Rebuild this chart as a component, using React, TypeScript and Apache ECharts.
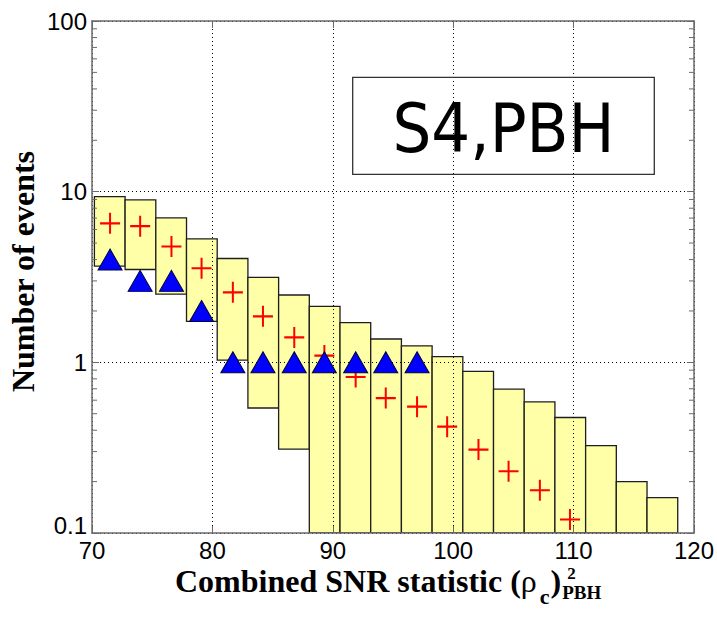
import React, { useEffect, useRef } from "react";
import * as echarts from "echarts";

// ---- data ----
const binEdges = [70.2, 72.75, 75.3, 77.85, 80.4, 82.95, 85.5, 88.05, 90.6, 93.15, 95.7, 98.25, 100.8, 103.35, 105.9, 108.45, 111.0, 113.55, 116.1, 118.65];
const binCenters = [71.5, 74.0, 76.6, 79.1, 81.7, 84.2, 86.8, 89.3, 91.9, 94.4, 97.0, 99.5, 102.1, 104.6, 107.2, 109.7, 112.3, 114.8, 117.4];
const bandUpper = [9.35, 8.94, 7.03, 5.29, 4.06, 3.15, 2.48, 2.13, 1.71, 1.37, 1.25, 1.08, 0.885, 0.697, 0.587, 0.475, 0.325, 0.2, 0.161];
const bandLower = [3.66, 3.5, 2.51, 1.74, 1.03, 0.54, 0.31, 0, 0, 0, 0, 0, 0, 0, 0, 0, 0, 0, 0];
const expectedCounts = [6.52, 6.28, 4.77, 3.56, 2.57, 1.86, 1.4, 1.095, 0.82, 0.617, 0.55, 0.42, 0.308, 0.23, 0.178, 0.12];
const observedCounts = [4, 3, 3, 2, 1, 1, 1, 1, 1, 1, 1];

const xTickValues = [70, 80, 90, 100, 110, 120];
const xTickLabels = ["70", "80", "90", "100", "110", "120"];
const yTickValues = [0.1, 1, 10, 100];
const yTickLabels = ["0.1", "1", "10", "100"];
const yMinorTicks = [0.2, 0.3, 0.4, 0.5, 0.6, 0.7, 0.8, 0.9, 2, 3, 4, 5, 6, 7, 8, 9, 20, 30, 40, 50, 60, 70, 80, 90];

const X_MIN = 70, X_MAX = 120, Y_MIN = 0.1, Y_MAX = 100;

const AXIS_COLOR = "#6a6a6a";
const TICK_FONT = '"Liberation Sans Narrow", "Liberation Sans", Arial, sans-serif';
const SERIF = '"Liberation Serif", "Times New Roman", serif';

function measure(text: string, font: string): number {
  const c = document.createElement("canvas");
  const ctx = c.getContext("2d");
  if (!ctx) return text.length * 10;
  ctx.font = font;
  return ctx.measureText(text).width;
}

function txt(text: string, x: number, y: number, font: string, lineHeight: number, extra: any = {}) {
  return {
    type: "text", z: 11, ...extra,
    style: {
      text, x, y, fill: "#000", font, lineHeight,
      align: extra.alignC ? "center" : "left", verticalAlign: "middle",
      textAlign: extra.alignC ? "center" : "left", textVerticalAlign: "middle",
    },
  };
}

export default function App() {
  const ref = useRef<HTMLDivElement>(null);

  useEffect(() => {
    if (!ref.current) return;
    const chart = echarts.init(ref.current, undefined, { renderer: "svg" });

    const boxData = binCenters.map((c, i) => [binEdges[i], binEdges[i + 1], bandLower[i], bandUpper[i]]);
    const expData = expectedCounts.map((v, i) => [binCenters[i], v]);
    const obsData = observedCounts.map((v, i) => [binCenters[i], v]);
    const minorData = yMinorTicks.map((v) => [X_MIN, v]);

    const mainFont = `bold 32px ${SERIF}`;
    const rhoFont = `32px ${SERIF}`;
    const subFont = `bold 22px ${SERIF}`;
    const titleMain = "Combined SNR statistic (";
    const x0 = 175;
    const yT = 581;
    const wMain = measure(titleMain, mainFont);
    const wRho = measure("\u03c1", rhoFont);
    const wC = measure("c", subFont);
    const wParen = measure(")", mainFont);
    const xRho = x0 + wMain;
    const xC = xRho + wRho + 3;
    const xParen = xC + wC + 1;
    const xAfter = xParen + wParen;

    const fmtY = (v: number) => {
      const idx = yTickValues.findIndex((t) => Math.abs(Math.log10(t) - Math.log10(v)) < 1e-6);
      const s = idx >= 0 ? yTickLabels[idx] : "";
      return idx === 0 ? `{low|${s}}` : s;
    };
    const fmtX = (v: number) => {
      const idx = xTickValues.findIndex((t) => Math.abs(t - v) < 1e-6);
      return idx >= 0 ? xTickLabels[idx] : "";
    };

    const gridLine = { show: true, lineStyle: { color: "#000", type: [1, 3] as any, width: 1 } };

    const option: any = {
      animation: false,
      backgroundColor: "#fff",
      grid: { left: 92, top: 21, width: 605, height: 512, containLabel: false },
      xAxis: [
        {
          type: "value", min: X_MIN, max: X_MAX, interval: 10, z: 3,
          axisLine: { show: true, onZero: false, lineStyle: { color: AXIS_COLOR, width: 1.5 } },
          axisTick: { show: true, inside: true, length: 7, lineStyle: { color: AXIS_COLOR, width: 1 } },
          axisLabel: { show: true, formatter: fmtX, color: "#000", fontFamily: TICK_FONT, fontSize: 24, lineHeight: 18, margin: 8 },
          splitLine: gridLine,
        },
        {
          type: "value", min: X_MIN, max: X_MAX, interval: 10, position: "top", z: 3,
          axisLine: { show: true, onZero: false, lineStyle: { color: AXIS_COLOR, width: 1.5 } },
          axisTick: { show: true, inside: true, length: 7, lineStyle: { color: AXIS_COLOR, width: 1 } },
          axisLabel: { show: false },
          splitLine: { show: false },
        },
      ],
      yAxis: [
        {
          type: "log", logBase: 10, min: Y_MIN, max: Y_MAX, z: 3,
          axisLine: { show: true, onZero: false, lineStyle: { color: AXIS_COLOR, width: 1.5 } },
          axisTick: { show: true, inside: true, length: 7, lineStyle: { color: AXIS_COLOR, width: 1 } },
          axisLabel: {
            show: true, formatter: fmtY, color: "#000", fontFamily: TICK_FONT, fontSize: 24, lineHeight: 18, margin: 5,
            rich: { low: { fontFamily: TICK_FONT, fontSize: 24, lineHeight: 18, color: "#000", padding: [0, 0, 16, 0] } },
          },
          splitLine: gridLine,
        },
        {
          type: "log", logBase: 10, min: Y_MIN, max: Y_MAX, position: "right", z: 3,
          axisLine: { show: true, onZero: false, lineStyle: { color: AXIS_COLOR, width: 1.5 } },
          axisTick: { show: true, inside: true, length: 7, lineStyle: { color: AXIS_COLOR, width: 1 } },
          axisLabel: { show: false },
          splitLine: { show: false },
        },
      ],
      series: [
        {
          type: "custom",
          name: "band",
          z: 1,
          silent: true,
          clip: true,
          encode: { x: [0, 1], y: [2, 3] },
          data: boxData,
          renderItem: (params: any, api: any) => {
            const xa = api.value(0), xb = api.value(1);
            const lo = Math.max(api.value(2), Y_MIN);
            const hi = api.value(3);
            const pA = api.coord([xa, hi]);
            const pB = api.coord([xb, lo]);
            return {
              type: "rect",
              shape: { x: pA[0], y: pA[1], width: pB[0] - pA[0], height: pB[1] - pA[1] },
              style: { fill: "#ffffa8", stroke: "#1e1e1e", lineWidth: 1.3 },
            };
          },
        },
        {
          type: "custom",
          name: "minorTicks",
          z: 4,
          silent: true,
          encode: { x: 0, y: 1 },
          data: minorData,
          renderItem: (params: any, api: any) => {
            const cs = params.coordSys;
            const y = api.coord([X_MIN, api.value(1)])[1];
            const st = { stroke: AXIS_COLOR, lineWidth: 1 };
            return {
              type: "group",
              children: [
                { type: "line", shape: { x1: cs.x, y1: y, x2: cs.x + 5, y2: y }, style: st },
                { type: "line", shape: { x1: cs.x + cs.width - 5, y1: y, x2: cs.x + cs.width, y2: y }, style: st },
              ],
            };
          },
        },
        {
          type: "scatter",
          name: "expected",
          z: 5,
          data: expData,
          symbol: "path://M9,0H11V9H20V11H11V20H9V11H0V9H9Z",
          symbolSize: [20, 21],
          itemStyle: { color: "#ff0000", opacity: 1 },
        },
        {
          type: "scatter",
          name: "observed",
          z: 6,
          data: obsData,
          symbol: "triangle",
          symbolSize: [24, 21],
          itemStyle: { color: "#0000ff", borderColor: "#000040", borderWidth: 1, opacity: 1 },
        },
      ],
      graphic: [
        {
          type: "rect", z: 10,
          shape: { x: 352.7, y: 77.3, width: 301.6, height: 97 },
          style: { fill: "none", stroke: "#333", lineWidth: 1.3 },
        },
        txt("S4,PBH", 0, 0, '68px "DejaVu Sans", sans-serif', 70, { x: 503.5, y: 128.2, scaleX: 0.9, alignC: true }),
        txt("Number of events", 0, 0, mainFont, 32, { x: 22.5, y: 271.5, rotation: Math.PI / 2, alignC: true }),
        txt(titleMain, x0, yT, mainFont, 24),
        txt("\u03c1", xRho, yT, rhoFont, 24),
        txt("c", xC, yT + 15, subFont, 16),
        txt(")", xParen, yT, mainFont, 24),
        txt("2", xAfter + 6, yT - 8, `bold 17px ${SERIF}`, 12),
        txt("PBH", xAfter + 1, yT + 11, `bold 19px ${SERIF}`, 14),
      ],
    };

    chart.setOption(option);
    return () => chart.dispose();
  }, []);

  return (
    <div
      ref={ref}
      style={{ position: "absolute", left: 0, top: 0, width: 717, height: 622, background: "#fff" }}
    />
  );
}
